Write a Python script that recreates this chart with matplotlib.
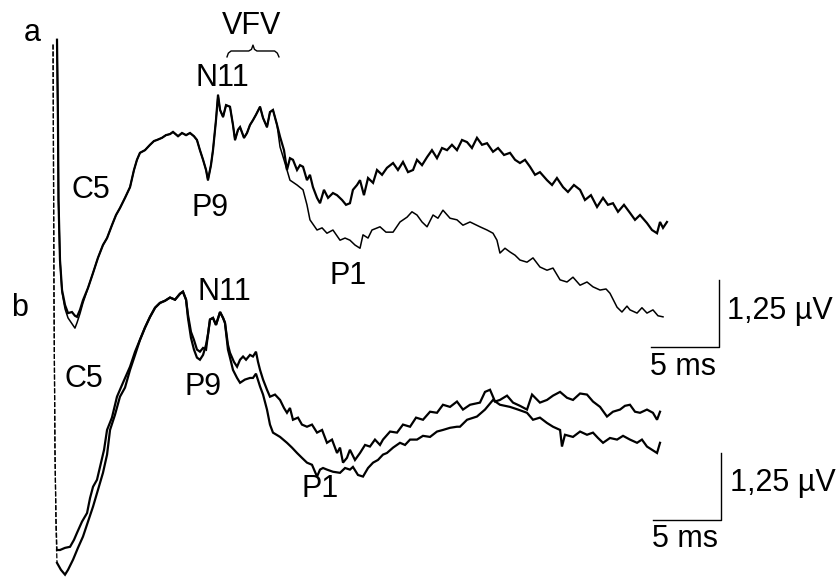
import numpy as np
import matplotlib
matplotlib.use("Agg")
import matplotlib.pyplot as plt

plt.rcParams['font.family'] = ['Liberation Sans', 'DejaVu Sans']

# --- 波形数据 (时间 ms, 幅值 µV) ---
# a: 上方两条叠加记录
a1 = [(0, 2.99), (0.07, 1.49), (0.11, 0), (0.22, -1.12), (0.37, -1.68), (0.59, -1.96),
      (0.81, -2.11), (1.10, -2.09), (1.32, -2.16), (1.47, -2.18), (1.69, -2.05), (1.91, -1.87),
      (2.28, -1.64), (2.65, -1.36), (3.01, -1.08), (3.38, -0.84), (3.68, -0.71), (4.04, -0.47),
      (4.34, -0.28), (4.63, -0.15), (5.00, 0.04), (5.37, 0.24), (5.66, 0.56), (5.88, 0.75),
      (6.10, 0.88), (6.47, 0.93), (6.84, 1.03), (7.13, 1.10), (7.35, 1.12), (7.72, 1.16),
      (8.01, 1.21), (8.31, 1.23), (8.53, 1.27), (8.90, 1.19), (9.19, 1.25), (9.49, 1.21),
      (9.78, 1.25), (10.07, 1.19), (10.29, 1.12), (10.51, 0.93), (10.74, 0.75), (10.96, 0.56),
      (11.10, 0.37), (11.32, 0.65), (11.47, 0.93), (11.69, 1.49), (11.84, 1.96), (11.99, 1.68),
      (12.21, 1.55), (12.43, 1.77), (12.72, 1.74), (12.94, 1.40), (13.09, 1.12), (13.31, 1.31),
      (13.46, 1.36), (13.75, 1.16), (13.97, 1.25), (14.19, 1.40), (14.41, 1.49), (14.63, 1.59),
      (14.93, 1.74), (15.15, 1.53), (15.44, 1.36), (15.66, 1.64), (15.88, 1.68), (16.18, 1.40),
      (16.40, 1.18), (16.69, 0.93), (16.91, 0.56), (17.13, 0.78), (17.35, 0.75), (17.65, 0.56),
      (17.87, 0.65), (18.09, 0.62), (18.38, 0.37), (18.60, 0.47), (18.82, 0.24), (19.12, 0.04),
      (19.34, -0.06), (19.63, 0.19), (19.93, 0.04), (20.29, 0.13), (20.59, 0.09), (20.96, 0),
      (21.25, -0.09), (21.54, -0.06), (21.76, 0.19), (22.06, 0.28), (22.28, 0.37), (22.57, 0.09),
      (22.87, 0.41), (23.24, 0.32), (23.53, 0.56), (23.90, 0.47), (24.26, 0.60), (24.71, 0.69),
      (25.07, 0.56), (25.44, 0.71), (25.81, 0.52), (26.18, 0.56), (26.47, 0.75), (26.84, 0.65),
      (27.21, 0.80), (27.57, 0.93), (27.94, 0.78), (28.31, 0.97), (28.68, 0.93), (29.04, 1.03),
      (29.41, 0.93), (29.78, 1.12), (30.15, 1.08), (30.51, 0.97), (30.88, 1.16), (31.25, 1.03),
      (31.62, 1.06), (32.06, 0.90), (32.43, 0.97), (32.87, 0.84), (33.31, 0.88), (33.68, 0.75),
      (34.04, 0.69), (34.41, 0.75), (34.78, 0.62), (35.15, 0.47), (35.51, 0.52), (36.03, 0.37),
      (36.40, 0.28), (36.76, 0.41), (37.21, 0.24), (37.57, 0.15), (38.01, 0.28), (38.46, 0.19),
      (38.82, 0), (39.26, 0.09), (39.71, -0.13), (40.15, 0.04), (40.51, -0.09), (40.88, -0.06),
      (41.25, -0.22), (41.69, -0.09), (42.13, -0.24), (42.50, -0.37), (42.87, -0.28), (43.38, -0.43),
      (43.75, -0.56), (44.12, -0.62), (44.34, -0.41), (44.56, -0.52), (44.85, -0.41)]

# 第二条记录: 起始段略深, 中段与 a1 重合, 16 ms 后分开
a2_start = [(0, 2.99), (0.07, 1.49), (0.11, 0), (0.22, -1.12), (0.37, -1.72), (0.59, -2.03),
            (0.81, -2.20), (1.10, -2.31), (1.32, -2.39), (1.47, -2.29), (1.69, -2.12), (1.91, -1.92)]
a2_late = [(16.40, 0.99), (16.69, 0.75), (17.13, 0.37), (17.65, 0.28), (18.09, 0.19), (18.38, -0.09),
           (18.60, -0.37), (19.12, -0.56), (19.49, -0.52), (19.85, -0.62), (20.29, -0.56), (20.81, -0.75),
           (21.18, -0.71), (21.54, -0.75), (21.91, -0.84), (22.28, -0.90), (22.50, -0.65), (22.87, -0.71),
           (23.16, -0.56), (23.75, -0.50), (24.19, -0.60), (24.71, -0.60), (25.22, -0.41), (25.74, -0.32),
           (26.10, -0.22), (26.47, -0.28), (26.84, -0.41), (27.21, -0.50), (27.65, -0.28), (28.01, -0.34),
           (28.38, -0.19), (28.90, -0.34), (29.41, -0.37), (29.85, -0.47), (30.37, -0.41), (31.10, -0.50),
           (31.62, -0.56), (32.06, -0.62), (32.35, -0.75), (32.57, -0.99), (32.94, -0.90), (33.31, -0.97),
           (33.68, -1.03), (34.04, -1.12), (34.56, -1.16), (35.00, -1.08), (35.51, -1.25), (36.03, -1.31),
           (36.47, -1.27), (36.99, -1.49), (37.50, -1.53), (37.94, -1.44), (38.46, -1.59), (38.97, -1.53),
           (39.41, -1.62), (39.93, -1.68), (40.37, -1.66), (40.66, -1.74), (41.18, -2.00), (41.54, -2.09),
           (41.91, -1.98), (42.13, -2.05), (42.65, -2.11), (43.01, -2.01), (43.38, -2.11), (43.82, -2.05),
           (44.19, -2.16), (44.56, -2.18)]

# b: 下方两条叠加记录
b1 = [(-0.29, 7.00), (-0.22, 2.24), (-0.15, -0.56), (-0.07, -1.87), (0, -2.43), (0.22, -2.43),
      (0.59, -2.39), (0.96, -2.37), (1.25, -2.24), (1.47, -2.11), (1.84, -1.90), (2.21, -1.74),
      (2.43, -1.46), (2.65, -1.25), (2.94, -1.12), (3.16, -0.88), (3.46, -0.56), (3.68, -0.19),
      (4.04, 0.04), (4.41, 0.43), (4.85, 0.69), (5.37, 0.99), (5.74, 1.27), (6.10, 1.49),
      (6.47, 1.72), (6.84, 1.92), (7.21, 2.09), (7.57, 2.18), (7.94, 2.22), (8.31, 2.28),
      (8.68, 2.24), (9.04, 2.35), (9.26, 2.39), (9.49, 2.24), (9.63, 1.96), (9.85, 1.64),
      (10.07, 1.49), (10.29, 1.31), (10.51, 1.27), (10.74, 1.34), (10.96, 1.31), (11.10, 1.59),
      (11.25, 1.87), (11.47, 1.90), (11.69, 1.77), (11.99, 2.01), (12.21, 1.90), (12.35, 1.81),
      (12.57, 1.40), (12.72, 1.25), (13.01, 1.08), (13.24, 0.99), (13.46, 1.12), (13.68, 1.18),
      (13.90, 1.12), (14.19, 1.21), (14.41, 1.18), (14.63, 1.27), (14.78, 1.08), (14.93, 0.93),
      (15.15, 0.75), (15.44, 0.56), (15.66, 0.43), (16.03, 0.47), (16.40, 0.37), (16.69, 0.22),
      (16.91, 0.13), (17.13, 0.22), (17.35, 0), (17.72, 0.04), (18.01, -0.09), (18.38, -0.13),
      (18.75, -0.09), (19.12, -0.24), (19.49, -0.19), (19.85, -0.43), (20.22, -0.37), (20.59, -0.62),
      (20.81, -0.52), (21.03, -0.80), (21.32, -0.71), (21.54, -0.56), (21.91, -0.75), (22.28, -0.62),
      (22.65, -0.47), (23.01, -0.50), (23.38, -0.37), (23.75, -0.47), (23.97, -0.37), (24.49, -0.22),
      (25.00, -0.24), (25.44, -0.09), (25.96, -0.13), (26.40, 0.04), (26.91, 0), (27.43, 0.15),
      (27.94, 0.13), (28.38, 0.28), (28.90, 0.24), (29.41, 0.34), (29.85, 0.19), (30.37, 0.28),
      (31.10, 0.32), (31.47, 0.52), (31.84, 0.56), (32.21, 0.34), (32.57, 0.37), (33.09, 0.45),
      (33.53, 0.32), (34.04, 0.26), (34.56, 0.19), (34.93, 0.47), (35.51, 0.32), (36.03, 0.37),
      (36.47, 0.45), (36.99, 0.52), (37.50, 0.41), (37.94, 0.37), (38.46, 0.49), (38.97, 0.47),
      (39.41, 0.34), (39.93, 0.24), (40.44, 0.06), (40.88, 0.15), (41.40, 0.19), (41.76, 0.26),
      (42.13, 0.28), (42.50, 0.15), (42.87, 0.13), (43.38, 0.19), (43.82, 0.13), (44.12, 0),
      (44.34, 0.15)]

b2_t = [-0.29, -0.22, -0.15, -0.07, 0, 0.29, 0.59, 0.81, 1.18, 1.54, 1.91, 2.28, 2.65, 3.01, 3.38,
        3.68, 3.90, 4.26, 4.63, 5.00, 5.37, 5.74,
        6.10, 6.47, 6.84, 7.21, 7.57, 7.94, 8.31, 8.68, 9.04, 9.26, 9.49,
        9.63, 9.85, 10.07, 10.29, 10.51, 10.74, 10.96, 11.10,
        11.25, 11.47, 11.69, 11.99, 12.21, 12.35,
        12.57, 12.72, 12.94, 13.24, 13.46, 13.82, 14.19, 14.41, 14.63, 14.93,
        15.15, 15.44, 15.66, 15.88, 16.40, 16.91, 17.28, 17.65, 18.01, 18.38,
        18.75, 19.12, 19.34, 19.56, 19.85, 20.29, 20.81, 21.18, 21.54, 21.76,
        22.13, 22.50, 22.87, 23.24, 23.60, 23.97, 24.26, 24.71, 25.22, 25.59,
        25.96, 26.47, 26.91, 27.43, 27.94, 28.38, 28.90, 29.41, 29.63, 30.15,
        30.88, 31.47, 32.06, 32.57, 33.31, 33.90, 34.56, 35.00, 35.51, 36.03,
        36.47, 36.99, 37.13, 37.35, 37.94, 38.46, 38.97, 39.41, 39.78, 40.15,
        40.66, 41.18, 41.62, 42.13, 42.65, 43.01, 43.38, 43.75, 44.12, 44.34]
b2_v = [7.00, 2.24, -0.56, -2.05, -2.67, -2.80, -2.89, -2.80, -2.61, -2.39, -2.18, -1.90, -1.62,
        -1.31, -0.99, -0.65, -0.19, 0.09, 0.43, 0.60, 0.93, 1.21,
        1.49, 1.72, 1.92, 2.09, 2.18, 2.22, 2.28, 2.24, 2.35, 2.39, 2.24,
        1.90, 1.53, 1.31, 1.16, 1.12, 1.21, 1.40, 1.59,
        1.87, 1.90, 1.77, 2.01, 1.90, 1.81,
        1.31, 1.16, 0.93, 0.78, 0.69, 0.75, 0.78, 0.78, 0.86, 0.62,
        0.47, 0.19, -0.09, -0.24, -0.32, -0.43, -0.52, -0.62, -0.71, -0.80,
        -0.84, -1.06, -0.93, -0.90, -0.93, -0.97, -0.99, -0.90, -0.93, -0.88,
        -1.03, -1.06, -0.90, -0.80, -0.75, -0.65, -0.62, -0.52, -0.43, -0.47,
        -0.37, -0.37, -0.30, -0.32, -0.22, -0.19, -0.15, -0.13, -0.13, 0,
        0.06, 0.19, 0.37, 0.28, 0.24, 0.19, 0.13, 0, 0.04, -0.06,
        -0.13, -0.19, -0.50, -0.28, -0.32, -0.22, -0.28, -0.24, -0.34, -0.43,
        -0.34, -0.37, -0.30, -0.37, -0.43, -0.37, -0.50, -0.56, -0.62, -0.43]

SCALE_T = 5.0      # ms
SCALE_V = 1.25     # µV

# --- 布局 ---
OFFSET_B = -4.10   # b 记录的竖直偏移 (µV)
FS = 22


def as_xy(pairs):
    arr = np.array(pairs, dtype=float)
    return arr[:, 0], arr[:, 1]


a1_t, a1_v = as_xy(a1)
mid = [(t, v) for t, v in a1 if 2.2 < t < 16.3]
a2_t, a2_v = as_xy(a2_start + mid + a2_late)
b1_t, b1_v = as_xy(b1)
b2_t, b2_v = np.array(b2_t), np.array(b2_v)

fig = plt.figure(figsize=(8.39, 5.79), dpi=100)
ax = fig.add_axes([0, 0, 1, 1])
ax.set_xlim(-57 / 13.6, 782 / 13.6)
ax.set_ylim(-379 / 53.6, 200 / 53.6)
ax.axis('off')

kw = dict(color='black', lw=1.6, solid_joinstyle='miter')

# a
ax.plot(a1_t, a1_v, **kw)
ax.plot(a2_t, a2_v, color='black', lw=1.1)

# b: 刺激伪迹用虚线
for tt, vv in [(b1_t, b1_v), (b2_t, b2_v)]:
    ax.plot(tt[:5], vv[:5] + OFFSET_B, color='black', lw=0.9, ls=(0, (4, 1.5)))
    ax.plot(tt[4:], vv[4:] + OFFSET_B, **kw)


def scale_bar(t0, v0):
    """右下角为 (t0, v0) 的 L 形标尺"""
    ax.plot([t0 - SCALE_T, t0, t0], [v0, v0, v0 + SCALE_V], color='black', lw=1.0)
    ax.text(t0 + 0.6, v0 + SCALE_V * 0.55, '1,25 µV', fontsize=FS, ha='left', va='center')
    ax.text(t0 - SCALE_T / 2 - 0.2, v0 - 0.36, '5 ms', fontsize=FS, ha='center', va='center')


scale_bar(48.7, -2.75)
scale_bar(48.85, -1.87 + OFFSET_B)

# 标签
ax.text(-1.84, 3.12, 'a', fontsize=FS, ha='center', va='center')
ax.text(-2.72, 2.09 + OFFSET_B, 'b', fontsize=FS, ha='center', va='center')
ax.text(14.3, 3.25, 'VFV', fontsize=FS, ha='center', va='center')
ax.text(12.13, 2.28, 'N11', fontsize=FS, ha='center', va='center')
ax.text(2.5, 0.19, 'C5', fontsize=FS, ha='center', va='center')
ax.text(11.25, -0.15, 'P9', fontsize=FS, ha='center', va='center')
ax.text(21.4, -1.42, 'P1', fontsize=FS, ha='center', va='center')
ax.text(12.28, 2.39 + OFFSET_B, 'N11', fontsize=FS, ha='center', va='center')
ax.text(1.99, 0.76 + OFFSET_B, 'C5', fontsize=FS, ha='center', va='center')
ax.text(10.74, 0.62 + OFFSET_B, 'P9', fontsize=FS, ha='center', va='center')
ax.text(19.34, -1.29 + OFFSET_B, 'P1', fontsize=FS, ha='center', va='center')

# VFV 花括号
brace_t = [12.5, 12.6, 12.8, 14.1, 14.3, 14.41, 14.52, 14.7, 16.0, 16.2, 16.32]
brace_v = [2.67, 2.74, 2.78, 2.78, 2.81, 2.89, 2.81, 2.78, 2.78, 2.74, 2.67]
ax.plot(brace_t, brace_v, color='black', lw=1.0)

fig.savefig('out.png', dpi=100)
